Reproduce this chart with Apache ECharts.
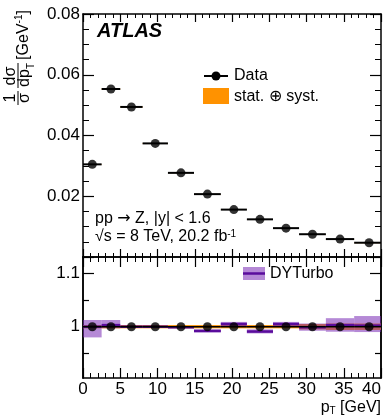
<!DOCTYPE html>
<html><head><meta charset="utf-8">
<script src="https://cdn.jsdelivr.net/npm/echarts@6/dist/echarts.min.js"></script>
<style>html,body{margin:0;padding:0;background:#fff}#c{width:388px;height:420px}</style>
</head><body><div id="c"></div>
<script>
// ---- data ----
const binEdges = [0, 2.5, 5, 8, 11.4, 14.9, 18.5, 22, 25.5, 29, 32.6, 36.4, 40.4];
const dataValues = [0.0305, 0.0553, 0.0494, 0.0374, 0.0277, 0.0207, 0.0156, 0.0124, 0.0095, 0.0075, 0.0059, 0.0047];
const dataRelErr = [0.003, 0.003, 0.003, 0.003, 0.003, 0.003, 0.003, 0.003, 0.003, 0.005, 0.006, 0.006];
const dataRatio = [1, 1, 1, 1, 1, 1, 1, 1, 1, 1, 1, 1];
const dyturboRatio = [1.000, 1.003, 1.000, 1.000, 0.999, 0.992, 1.005, 0.991, 1.005, 0.999, 1.003, 1.002];
const dyturboLow  = [0.980, 0.997, 0.998, 0.998, 0.997, 0.9895, 1.001, 0.9875, 1.001, 0.9925, 0.9906, 0.990];
const dyturboHigh = [1.0126, 1.0126, 1.002, 1.002, 1.001, 0.995, 1.009, 0.995, 1.009, 1.006, 1.016, 1.020];
const topYTicks = [0.02, 0.04, 0.06, 0.08];
const ratioMajorTicks = [1.0, 1.1];
const ratioMinorTicks = [0.95, 1.05];

// ---- style ----
const F = 'Liberation Sans, Arial, sans-serif';
const ORANGE = '#ff9200';
const PURPLE_BAND = 'rgba(120,40,180,0.55)';
const PURPLE_LINE = '#5a0c9c';

const nBins = dataValues.length;
const bandTop = [], hbarTop = [], ptsTop = [], bandR = [], dyBand = [], dyLine = [], hbarR = [], ptsR = [];
for (let i = 0; i < nBins; i++) {
  const lo = binEdges[i], hi = binEdges[i + 1], c = (lo + hi) / 2;
  const v = dataValues[i], e = v * dataRelErr[i];
  bandTop.push([lo, hi, v - e, v + e]);
  hbarTop.push([lo, hi, v]);
  ptsTop.push([c, v]);
  bandR.push([lo, hi, dataRatio[i] - dataRelErr[i], dataRatio[i] + dataRelErr[i]]);
  dyBand.push([lo, hi, dyturboLow[i], dyturboHigh[i]]);
  dyLine.push([lo, hi, dyturboRatio[i]]);
  hbarR.push([lo, hi, dataRatio[i]]);
  ptsR.push([c, dataRatio[i]]);
}

function rectItem(color) {
  return function (params, api) {
    const p1 = api.coord([api.value(0), api.value(3)]);
    const p2 = api.coord([api.value(1), api.value(2)]);
    return { type: 'rect', shape: { x: p1[0], y: p1[1], width: p2[0] - p1[0], height: Math.max(p2[1] - p1[1], 0.5) },
      style: { fill: color } };
  };
}
function hlineItem(color, w) {
  return function (params, api) {
    const p1 = api.coord([api.value(0), api.value(2)]);
    const p2 = api.coord([api.value(1), api.value(2)]);
    return { type: 'line', shape: { x1: p1[0], y1: p1[1], x2: p2[0], y2: p2[1] },
      style: { stroke: color, lineWidth: w } };
  };
}

function xAx(gridIndex, position, showLabel, major, minor) {
  return {
    type: 'value', gridIndex, position, min: 0, max: 40, interval: 5,
    axisLine: { show: true, onZero: false, lineStyle: { color: '#000', width: 1.5 } },
    axisTick: { show: true, inside: true, length: major, lineStyle: { color: '#000', width: 1.2 } },
    minorTick: { show: true, splitNumber: 5, length: minor, lineStyle: { color: '#000', width: 1 } },
    splitLine: { show: false }, minorSplitLine: { show: false },
    axisLabel: { show: showLabel, fontFamily: F, fontSize: 17, color: '#000', margin: 3, alignMaxLabel: 'right' }
  };
}
function yAxRatio(position, values, len, showLabel) {
  return {
    type: 'value', gridIndex: 1, position, min: 0.904, max: 1.1305,
    axisLine: { show: true, onZero: false, lineStyle: { color: '#000', width: 1.5 } },
    axisTick: { show: true, inside: true, length: len, customValues: values, lineStyle: { color: '#000', width: 1.2 } },
    splitLine: { show: false },
    axisLabel: { show: showLabel, customValues: values, fontFamily: F, fontSize: 17, color: '#000', margin: 3,
      formatter: v => (Math.abs(v - 1) < 1e-9 ? '1' : v.toFixed(1)) }
  };
}
function yAxTop(position, showLabel) {
  return {
    type: 'value', gridIndex: 0, position, min: 0, max: 0.08, interval: 0.02,
    axisLine: { show: true, onZero: false, lineStyle: { color: '#000', width: 1.5 } },
    axisTick: { show: true, inside: true, length: 11, lineStyle: { color: '#000', width: 1.2 } },
    minorTick: { show: true, splitNumber: 4, length: 6, lineStyle: { color: '#000', width: 1 } },
    splitLine: { show: false }, minorSplitLine: { show: false },
    axisLabel: { show: showLabel, fontFamily: F, fontSize: 17, color: '#000', margin: 3,
      customValues: topYTicks, formatter: v => v.toFixed(2) }
  };
}

const txt = (x, y, text, extra) => ({ type: 'text', x, y, silent: true,
  style: Object.assign({ text, font: '16px ' + F, fill: '#000', textAlign: 'left', textVerticalAlign: 'middle' }, extra || {}) });
const rtxt = (x, y, text, size) => ({ type: 'text', x, y, rotation: Math.PI / 2, silent: true,
  style: { text, font: (size || 16) + 'px ' + F, fill: '#000', textAlign: 'center', textVerticalAlign: 'middle' } });

const option = {
  animation: false,
  backgroundColor: '#fff',
  grid: [
    { left: 83, right: 7, top: 14, height: 243 },
    { left: 83, right: 7, top: 257, height: 121 }
  ],
  xAxis: [
    xAx(0, 'bottom', false, 8, 4),
    xAx(0, 'top', false, 8, 4),
    xAx(1, 'bottom', true, 10, 5),
    xAx(1, 'top', false, 10, 5)
  ],
  yAxis: [
    yAxTop('left', true),
    yAxTop('right', false),
    yAxRatio('left', ratioMajorTicks, 11, true),
    yAxRatio('left', ratioMinorTicks, 6, false),
    yAxRatio('right', ratioMajorTicks, 11, false),
    yAxRatio('right', ratioMinorTicks, 6, false)
  ],
  series: [
    { type: 'custom', xAxisIndex: 0, yAxisIndex: 0, clip: true, renderItem: rectItem(ORANGE), data: bandTop, encode: { x: [0, 1], y: [2, 3] } },
    { type: 'custom', xAxisIndex: 0, yAxisIndex: 0, clip: true, renderItem: hlineItem('#000', 2), data: hbarTop, encode: { x: [0, 1], y: [2] } },
    { type: 'scatter', xAxisIndex: 0, yAxisIndex: 0, symbol: 'circle', symbolSize: 9, itemStyle: { color: '#000' }, data: ptsTop, z: 5 },
    { type: 'custom', xAxisIndex: 2, yAxisIndex: 2, clip: true, renderItem: rectItem(ORANGE), data: bandR, encode: { x: [0, 1], y: [2, 3] } },
    { type: 'custom', xAxisIndex: 2, yAxisIndex: 2, clip: true, renderItem: rectItem(PURPLE_BAND), data: dyBand, encode: { x: [0, 1], y: [2, 3] } },
    { type: 'custom', xAxisIndex: 2, yAxisIndex: 2, clip: true, renderItem: hlineItem(PURPLE_LINE, 2.5), data: dyLine, encode: { x: [0, 1], y: [2] } },
    { type: 'custom', xAxisIndex: 2, yAxisIndex: 2, clip: true, renderItem: hlineItem('#000', 1.5), data: hbarR, encode: { x: [0, 1], y: [2] }, z: 4 },
    { type: 'scatter', xAxisIndex: 2, yAxisIndex: 2, symbol: 'circle', symbolSize: 9, itemStyle: { color: '#000' }, data: ptsR, z: 5 }
  ],
  graphic: [
    txt(97, 31, 'ATLAS', { font: 'italic bold 20px ' + F }),
    { type: 'line', shape: { x1: 204, y1: 76, x2: 228, y2: 76 }, style: { stroke: '#000', lineWidth: 2 } },
    { type: 'circle', shape: { cx: 216, cy: 76, r: 4.5 }, style: { fill: '#000' } },
    txt(234, 76, 'Data'),
    { type: 'rect', shape: { x: 203, y: 88, width: 26, height: 16 }, style: { fill: ORANGE } },
    txt(234, 97, 'stat. ⊕ syst.'),
    txt(95, 219, '{n|pp }{a|→}{n| Z, |y| < 1.6}', { rich: { n: { font: '16px ' + F, fill: '#000' }, a: { font: '16px DejaVu Sans', fill: '#000' } } }),
    txt(95, 237, '{n|√s = 8 TeV, 20.2 fb}{s|-1}', { rich: { n: { font: '16px ' + F, fill: '#000' }, s: { font: '10px ' + F, fill: '#000', verticalAlign: 'top' } } }),
    { type: 'rect', shape: { x: 243, y: 267, width: 22, height: 13 }, style: { fill: PURPLE_BAND } },
    { type: 'line', shape: { x1: 243, y1: 273.5, x2: 265, y2: 273.5 }, style: { stroke: PURPLE_LINE, lineWidth: 2.5 } },
    txt(270, 274, 'DYTurbo'),
    txt(381, 408, '{n|p}{s|T}{n| [GeV]}', { textAlign: 'right', rich: { n: { font: '16px ' + F, fill: '#000' }, s: { font: '10px ' + F, fill: '#000', verticalAlign: 'bottom' } } }),
    // y title (rotated)
    rtxt(11, 98, '1'),
    { type: 'line', shape: { x1: 18, y1: 91, x2: 18, y2: 105 }, style: { stroke: '#000', lineWidth: 1 } },
    rtxt(25, 98, 'σ'),
    rtxt(11, 76, 'dσ'),
    { type: 'line', shape: { x1: 18, y1: 63, x2: 18, y2: 88 }, style: { stroke: '#000', lineWidth: 1 } },
    rtxt(25, 78, 'dp'),
    rtxt(31, 66, 'T', 10),
    rtxt(24, 35, '[GeV  ]'),
    rtxt(19, 19, '-1', 10)
  ]
};
const chart = echarts.init(document.getElementById('c'), null, { renderer: 'canvas' });
chart.setOption(option);
</script></body></html>
